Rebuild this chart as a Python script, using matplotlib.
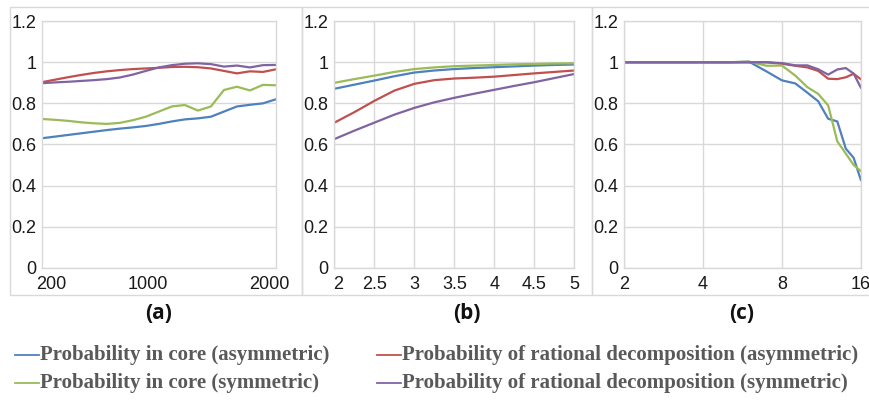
import matplotlib
matplotlib.use("Agg")
import matplotlib.pyplot as plt
import matplotlib.transforms as mtransforms
from matplotlib.lines import Line2D
from matplotlib.patches import Rectangle

# colours (Excel 2007 palette)
BLUE = '#4f81bd'
RED = '#c0504d'
GREEN = '#9bbb59'
PURPLE = '#8064a2'
GRID = '#d9d9d9'

# ---- panel (a) ----
xa = [200, 300, 400, 500, 600, 700, 800, 900, 1000, 1100, 1200, 1300, 1400,
      1500, 1600, 1700, 1800, 1900, 2000]
a_core_asym = [0.630, 0.638, 0.646, 0.654, 0.662, 0.670, 0.677, 0.683, 0.690, 0.700,
               0.712, 0.722, 0.727, 0.735, 0.760, 0.785, 0.793, 0.800, 0.820]
a_core_sym = [0.724, 0.720, 0.715, 0.708, 0.703, 0.700, 0.705, 0.718, 0.735, 0.760,
              0.785, 0.792, 0.765, 0.785, 0.865, 0.881, 0.863, 0.890, 0.888]
a_rat_asym = [0.903, 0.915, 0.927, 0.938, 0.948, 0.956, 0.962, 0.967, 0.970, 0.973,
              0.977, 0.978, 0.976, 0.970, 0.958, 0.946, 0.956, 0.953, 0.966]
a_rat_sym = [0.898, 0.902, 0.905, 0.909, 0.913, 0.918, 0.926, 0.940, 0.958, 0.975,
             0.986, 0.993, 0.995, 0.991, 0.979, 0.984, 0.975, 0.986, 0.987]

# ---- panel (b) ----
xb = [2, 2.25, 2.5, 2.75, 3, 3.25, 3.5, 3.75, 4, 4.25, 4.5, 4.75, 5]
b_core_asym = [0.871, 0.891, 0.911, 0.932, 0.950, 0.960, 0.967, 0.972, 0.976, 0.980,
               0.984, 0.987, 0.989]
b_core_sym = [0.900, 0.918, 0.935, 0.953, 0.967, 0.975, 0.981, 0.984, 0.987, 0.990,
              0.992, 0.994, 0.995]
b_rat_asym = [0.706, 0.757, 0.812, 0.862, 0.895, 0.913, 0.921, 0.925, 0.930, 0.938,
              0.946, 0.953, 0.960]
b_rat_sym = [0.626, 0.667, 0.706, 0.745, 0.778, 0.805, 0.827, 0.847, 0.866, 0.885,
             0.903, 0.923, 0.943]

# ---- panel (c) ----
xc = [2, 3, 4, 5, 6, 7, 8, 9, 10, 11, 12, 13, 14, 15, 16]
c_core_asym = [1.0, 1.0, 1.0, 1.0, 1.003, 0.955, 0.912, 0.897, 0.852, 0.810, 0.725,
               0.712, 0.580, 0.535, 0.425]
c_core_sym = [1.0, 1.0, 1.0, 1.0, 1.003, 0.983, 0.984, 0.935, 0.879, 0.846, 0.790,
              0.615, 0.556, 0.500, 0.470]
c_rat_asym = [1.0, 1.0, 1.0, 1.0, 1.0, 1.0, 0.993, 0.983, 0.975, 0.958, 0.920,
              0.918, 0.927, 0.944, 0.917]
c_rat_sym = [1.0, 1.0, 1.0, 1.0, 1.0, 1.0, 0.996, 0.985, 0.985, 0.966, 0.940,
             0.965, 0.972, 0.945, 0.875]

yticks = [0, 0.2, 0.4, 0.6, 0.8, 1.0, 1.2]
ytick_labels = ['0', '0.2', '0.4', '0.6', '0.8', '1', '1.2']

series_names = ['Probability in core (asymmetric)',
                'Probability of rational decomposition (asymmetric)',
                'Probability in core (symmetric)',
                'Probability of rational decomposition (symmetric)']
series_colors = [BLUE, RED, GREEN, PURPLE]

W, H = 870, 400
fig = plt.figure(figsize=(W / 100, H / 100), dpi=100)


def px_axes(left, right, top, bottom):
    return fig.add_axes([left / W, 1 - bottom / H, (right - left) / W, (bottom - top) / H])


# chart-area borders
for x0, x1 in [(10, 302), (302, 592), (592, 872)]:
    fig.patches.append(Rectangle((x0 / W, 1 - 295 / H), (x1 - x0) / W, (295 - 7) / H,
                                 transform=fig.transFigure, fill=False,
                                 edgecolor=GRID, linewidth=1.0))

top, bottom = 21.2, 267.7
ax_a = px_axes(41.7, 276, top, bottom)
ax_b = px_axes(334.3, 574.3, top, bottom)
ax_c = px_axes(623.7, 861, top, bottom)

panels = [
    (ax_a, xa, [a_core_asym, a_rat_asym, a_core_sym, a_rat_sym]),
    (ax_b, xb, [b_core_asym, b_rat_asym, b_core_sym, b_rat_sym]),
    (ax_c, xc, [c_core_asym, c_rat_asym, c_core_sym, c_rat_sym]),
]

for ax, x, ys in panels:
    for y, c in zip(ys, series_colors):
        ax.plot(x, y, color=c, linewidth=1.6, solid_capstyle='round')
    ax.set_ylim(0, 1.2)
    ax.set_yticks(yticks)
    ax.set_yticklabels(ytick_labels)
    ax.grid(axis='y', color=GRID, linewidth=1.0)
    for s in ax.spines.values():
        s.set_color(GRID)
        s.set_linewidth(1.0)
    ax.tick_params(axis='y', length=0, pad=4)
    ax.tick_params(axis='x', length=0, pad=6)
    ax.set_axisbelow(True)

ax_a.set_xlim(200, 2000)
ax_a.set_xticks([200, 1000, 2000])
ax_a.set_xticklabels(['200', '1000', '2000'])

ax_b.set_xlim(2, 5)
ax_b.set_xticks([2, 2.5, 3, 3.5, 4, 4.5, 5])
ax_b.set_xticklabels(['2', '2.5', '3', '3.5', '4', '4.5', '5'])
ax_b.grid(axis='x', color=GRID, linewidth=1.0)

ax_c.set_xscale('log', base=2)
ax_c.set_xlim(2, 16)
ax_c.set_xticks([2, 4, 8, 16])
ax_c.set_xticklabels(['2', '4', '8', '16'])
ax_c.minorticks_off()
ax_c.grid(axis='x', color=GRID, linewidth=1.0)

for ax in (ax_a, ax_b, ax_c):
    for lab in ax.get_xticklabels() + ax.get_yticklabels():
        lab.set_fontfamily('Liberation Sans')
        lab.set_fontsize(13)
        lab.set_color('#1a1a1a')

# panel (a) labels sit slightly inside the axis ends, as in the original
for lab, dx in zip(ax_a.get_xticklabels(), [10, 2, -7]):
    lab.set_transform(lab.get_transform() +
                      mtransforms.ScaledTranslation(dx / 100, 0, fig.dpi_scale_trans))
lab0 = ax_b.get_xticklabels()[0]
lab0.set_transform(lab0.get_transform() +
                   mtransforms.ScaledTranslation(4 / 100, 0, fig.dpi_scale_trans))

# panel labels
for label, cx in [('(a)', 159), ('(b)', 467), ('(c)', 742)]:
    fig.text(cx / W, 1 - 313.5 / H, label, ha='center', va='center',
             fontsize=15, fontweight='bold', family='Open Sans', color='#111111')

# legend
legend_pos = [(15, 355), (377, 355), (15, 383), (377, 383)]
for (lx, ly), name, c in zip(legend_pos, series_names, series_colors):
    fig.lines.append(Line2D([lx / W, (lx + 24) / W], [1 - ly / H, 1 - ly / H],
                            transform=fig.transFigure, color=c, linewidth=1.3))
    fig.text((lx + 25) / W, 1 - ly / H, name, ha='left', va='center',
             fontsize=15, fontweight='bold', family='Liberation Serif', color='#595959')

fig.savefig('out.png', dpi=100)
